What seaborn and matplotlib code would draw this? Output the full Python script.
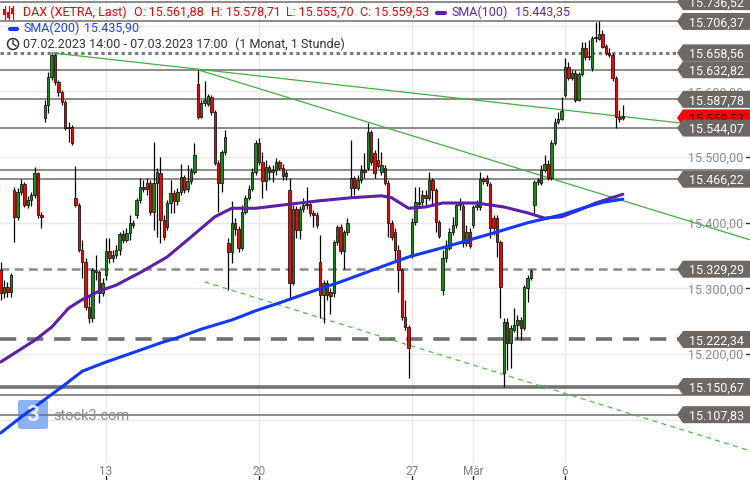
import numpy as np
import pandas as pd
import matplotlib
matplotlib.use('Agg')
import matplotlib.pyplot as plt
import matplotlib.patches as mpatches
from matplotlib.transforms import blended_transform_factory
import seaborn as sns

# --- Stundenkerzen DAX 07.02.2023 14:00 - 07.03.2023 17:00 ---
opens = [15328, 15293, 15302, 15295, 15450, 15409, 15447, 15459, 15427, 15435, 15442, 15476, 15412,
         15559, 15579, 15622, 15655, 15614, 15599, 15584, 15544, 15546,
         15438, 15427, 15359, 15340, 15272, 15255, 15328, 15325, 15293,
         15321, 15357, 15346, 15351, 15359, 15383, 15374, 15384, 15400,
         15412, 15435, 15454, 15451, 15461, 15416, 15461, 15476, 15404,
         15394, 15430, 15445, 15433, 15447, 15470, 15451, 15464, 15477,
         15611, 15561, 15582, 15581, 15591, 15569, 15491, 15461, 15508,
         15369, 15355, 15400, 15390, 15362, 15416, 15438, 15451, 15477,
         15521, 15492, 15464, 15485, 15477, 15480, 15492, 15483, 15471,
         15450, 15308, 15421, 15389, 15421, 15427, 15428, 15415, 15412,
         15340, 15290, 15308, 15295, 15293, 15371, 15394, 15357, 15386,
         15453, 15468, 15453, 15465, 15480, 15483, 15538, 15506, 15496,
         15477, 15483, 15461, 15400, 15386, 15359, 15328, 15257, 15241,
         15351, 15401, 15432, 15432, 15442, 15438, 15465, 15450, 15401,
         15298, 15346, 15361, 15386, 15397, 15427, 15425, 15369, 15386,
         15397, 15424, 15424, 15467, 15468, 15459, 15407, 15407, 15371,
         15171, 15249, 15217, 15237, 15244, 15252, 15240, 15301, 15316,
         15427, 15462, 15461, 15480, 15489, 15468, 15521, 15553, 15558,
         15594, 15637, 15620, 15628, 15587, 15626, 15666, 15652, 15635,
         15681, 15680, 15687, 15669, 15658, 15655, 15620, 15561, 15561.88]
highs = [15340, 15313, 15310, 15324, 15454, 15453, 15467, 15462, 15441, 15447, 15485, 15477, 15416,
         15587, 15629, 15658.56, 15657, 15617, 15602, 15587, 15553, 15549,
         15486, 15430, 15374, 15346, 15290, 15331, 15351, 15328, 15316,
         15377, 15377, 15359, 15366, 15386, 15389, 15392, 15412, 15404,
         15438, 15468, 15465, 15468, 15465, 15523, 15483, 15500, 15412,
         15435, 15465, 15450, 15453, 15489, 15473, 15488, 15483, 15521,
         15632.82, 15587, 15616, 15596, 15594, 15572, 15496, 15511, 15541,
         15377, 15433, 15407, 15395, 15427, 15442, 15457, 15483, 15526,
         15529, 15508, 15496, 15488, 15488, 15499, 15496, 15489, 15480,
         15468, 15427, 15425, 15425, 15438, 15454, 15430, 15419, 15416,
         15381, 15313, 15313, 15301, 15374, 15397, 15398, 15389, 15407,
         15526, 15471, 15473, 15488, 15506, 15552, 15541, 15511, 15529,
         15508, 15488, 15465, 15404, 15392, 15366, 15331, 15282, 15244,
         15407, 15454, 15454, 15450, 15450, 15477, 15468, 15453, 15404,
         15359, 15374, 15392, 15409, 15432, 15438, 15430, 15397, 15392,
         15427, 15435, 15477, 15470, 15473, 15462, 15412, 15412, 15374,
         15255, 15255, 15244, 15270, 15260, 15257, 15305, 15321, 15330,
         15465, 15468, 15488, 15503, 15496, 15526, 15559, 15569, 15591,
         15651, 15645, 15632, 15632, 15629, 15675, 15675, 15678, 15684,
         15706, 15706.37, 15693, 15672, 15666, 15658, 15623, 15572, 15578.71]
lows = [15282, 15285, 15287, 15287, 15371, 15404, 15442, 15424, 15422, 15426, 15438, 15407, 15392,
        15553, 15567, 15617, 15610, 15593, 15579, 15541, 15523, 15518,
        15424, 15355, 15316, 15267, 15247, 15249, 15313, 15278, 15289,
        15313, 15339, 15340, 15346, 15351, 15369, 15371, 15374, 15392,
        15407, 15430, 15447, 15442, 15412, 15389, 15378, 15369, 15374,
        15389, 15415, 15415, 15427, 15442, 15445, 15447, 15459, 15474,
        15558, 15559, 15578, 15578, 15564, 15488, 15416, 15447, 15503,
        15298, 15339, 15381, 15355, 15359, 15413, 15435, 15448, 15473,
        15488, 15438, 15450, 15465, 15462, 15473, 15480, 15465, 15465,
        15285, 15305, 15377, 15375, 15416, 15421, 15410, 15394, 15392,
        15255, 15247, 15282, 15261, 15287, 15366, 15352, 15330, 15381,
        15439, 15442, 15450, 15461, 15468, 15480, 15488, 15468, 15483,
        15473, 15457, 15378, 15374, 15343, 15295, 15252, 15237, 15164,
        15346, 15397, 15424, 15427, 15427, 15435, 15427, 15386, 15377,
        15290, 15340, 15359, 15381, 15392, 15419, 15363, 15365, 15361,
        15392, 15419, 15419, 15459, 15456, 15377, 15381, 15348, 15255,
        15150.67, 15176, 15179, 15234, 15222.34, 15222, 15237, 15279, 15313,
        15415, 15457, 15457, 15477, 15465, 15465, 15518, 15550, 15556,
        15591, 15617, 15617, 15584, 15585, 15623, 15648, 15648, 15631,
        15675, 15678, 15666, 15655, 15652, 15616, 15544.07, 15553, 15555.70]
closes = [15293, 15302, 15295, 15321, 15409, 15447, 15459, 15427, 15435, 15442, 15476, 15412, 15409,
          15579, 15622, 15655, 15614, 15599, 15584, 15544, 15546, 15521,
          15427, 15359, 15340, 15272, 15255, 15328, 15325, 15293, 15308,
          15357, 15346, 15351, 15359, 15383, 15374, 15384, 15400, 15397,
          15435, 15454, 15451, 15461, 15416, 15461, 15477, 15404, 15378,
          15430, 15445, 15433, 15447, 15470, 15450, 15464, 15479, 15503,
          15561, 15582, 15587, 15593, 15569, 15491, 15461, 15508, 15530,
          15355, 15400, 15390, 15362, 15416, 15438, 15451, 15477, 15521,
          15492, 15464, 15485, 15477, 15480, 15492, 15483, 15471, 15476,
          15308, 15421, 15389, 15421, 15427, 15428, 15415, 15412, 15397,
          15290, 15308, 15290, 15289, 15371, 15394, 15357, 15386, 15400,
          15468, 15453, 15465, 15480, 15477, 15538, 15492, 15476, 15486,
          15488, 15461, 15400, 15378, 15359, 15328, 15257, 15241, 15209,
          15401, 15432, 15428, 15442, 15438, 15465, 15450, 15401, 15380,
          15346, 15361, 15386, 15397, 15427, 15430, 15369, 15386, 15365,
          15424, 15427, 15467, 15464, 15461, 15392, 15392, 15371, 15302,
          15249, 15217, 15240, 15244, 15252, 15240, 15302, 15316, 15327,
          15462, 15465, 15480, 15489, 15468, 15521, 15553, 15558, 15570,
          15637, 15620, 15628, 15587, 15626, 15666, 15652, 15654, 15681,
          15683, 15687, 15667, 15658, 15655, 15620, 15561, 15558, 15559.53]

# gleitende Durchschnitte (Stuetzpunkte: Kerzen-Nr., Wert)
sma100_idx = [0, 10, 15, 20, 24, 29, 34, 38, 41, 49, 55, 63, 68, 75, 83, 93, 103, 112, 115, 120,
              125, 130, 140, 148, 155, 160, 165, 170, 175, 183]
sma100_val = [15188, 15221, 15241, 15270, 15283, 15296, 15305, 15316, 15324, 15348, 15374, 15409,
              15422, 15422, 15427, 15433, 15438, 15441, 15438, 15422, 15424, 15430, 15430, 15424,
              15415, 15407, 15409, 15419, 15430, 15443.35]
sma200_idx = [0, 8, 18, 24, 31, 41, 47, 52, 59, 68, 75, 82, 93, 100, 112, 120, 130, 140, 146, 155,
              165, 171, 177, 183]
sma200_val = [15080, 15112, 15150, 15174, 15188, 15206, 15217, 15225, 15238, 15252, 15266, 15278,
              15298, 15310, 15333, 15348, 15362, 15377, 15386, 15400, 15412, 15422, 15431, 15435.90]

# Trendlinien (Kerzen-Nr., Kurs)
trend1_x, trend1_y = [15, 220.4], [15658.56, 15540]
trend2_x, trend2_y = [58, 220.4], [15632.82, 15374]
trend3_x, trend3_y = [60, 220.4], [15310, 15053]

# Horizontale Marken
level_prices = [15736.52, 15706.37, 15658.56, 15632.82, 15587.78, 15544.07,
                15466.22, 15329.29, 15222.34, 15150.67, 15107.83]
hidden_levels = [15480, 15138]
grid_prices = [15100, 15200, 15300, 15400, 15500, 15600, 15700]
axis_prices = [15200, 15300, 15400, 15500, 15600]
last_price = 15559.53

date_ticks = [31, 76, 121, 139, 166]
date_labels = ['13', '20', '27', 'Mär', '6']

W, H = 750, 480
sns.set_style('white')
plt.rcParams['font.family'] = ['Roboto', 'DejaVu Sans']


def de(v):
    s = f"{v:,.2f}"
    return s.replace(',', 'X').replace('.', ',').replace('X', '.')


fig = plt.figure(figsize=(W / 100, H / 100), dpi=100)
ax = fig.add_axes([0, 17 / H, 1, 463 / H])
ymax = 15739
ymin = ymax - 1.522 * 463
ax.set_ylim(ymin, ymax)
ax.set_xlim(-0.18, 220.4)
for s in ax.spines.values():
    s.set_visible(False)
ax.set_yticks([])
ppx = (ymax - ymin) / 463.0
trans = blended_transform_factory(ax.transAxes, ax.transData)
trans_x = blended_transform_factory(ax.transData, ax.transAxes)

# Gitter
for v in grid_prices:
    ax.axhline(v, color='#e9e9e9', lw=1, zorder=0)
for t in date_ticks:
    ax.axvline(t, color='#e9e9e9', lw=1, zorder=0)

# Wasserzeichen
ax.add_patch(mpatches.FancyBboxPatch((18 / W, 1 - 429 / H), 30 / W, 29 / H,
             boxstyle='round,pad=0,rounding_size=0.004', transform=fig.transFigure,
             facecolor='#8db2f3', edgecolor='none', zorder=1, clip_on=False))
fig.text(33 / W, 1 - 415 / H, '3', color='white', fontsize=16, fontweight='bold',
         ha='center', va='center', alpha=0.85)
fig.text(53 / W, 1 - 416 / H, 'stock3.com', color='#8a8a8a', fontsize=10.5,
         ha='left', va='center')

# Horizontale Linien
lc = '#6f6c69'
styles = {
    15658.56: dict(lw=2.2, ls=(0, (1.1, 1.1)), color='#7a7a7a'),
    15329.29: dict(lw=1.8, ls=(0, (3.5, 2.2)), color='#8a8a8a'),
    15222.34: dict(lw=2.6, ls=(0, (4.5, 3)), color='#707070'),
    15150.67: dict(lw=2.6, ls='-', color='#737373'),
}
for v in level_prices + hidden_levels:
    st = styles.get(v, dict(lw=1.1, ls='-', color=lc))
    ax.axhline(v, zorder=2, **st)

# Trendlinien
ax.plot(trend1_x, trend1_y, color='#45ad45', lw=0.9, zorder=2.5)
ax.plot(trend2_x, trend2_y, color='#45ad45', lw=0.9, zorder=2.5)
ax.plot(trend3_x, trend3_y, color='#55bb55', lw=0.9, ls=(0, (4, 3.5)), zorder=2.5)

# Kerzen
df = pd.DataFrame({'o': opens, 'h': highs, 'l': lows, 'c': closes})
df['i'] = np.arange(len(df))
up = df['c'] >= df['o']
body_lo = df[['o', 'c']].min(axis=1)
body_h = (df['c'] - df['o']).abs().clip(lower=1.5)
ax.vlines(df['i'], df['l'], df['h'], color='black', lw=0.9, zorder=3)
ax.bar(df['i'], body_h, bottom=body_lo, width=0.74,
       color=np.where(up, '#168c16', '#ff0000'), edgecolor='black', linewidth=0.5, zorder=4)

# SMA-Linien
sns.lineplot(x=sma100_idx, y=sma100_val, ax=ax, color='#5b1fa8', lw=2.2, zorder=5,
             estimator=None, sort=False)
sns.lineplot(x=sma200_idx, y=sma200_val, ax=ax, color='#1238ff', lw=2.2, zorder=5,
             estimator=None, sort=False)

# Rechte Achse
for v in axis_prices:
    ax.text(743 / W, v, de(v), transform=trans, ha='right', va='center_baseline',
            color='#8c8c8c', fontsize=9, zorder=6)
    ax.plot([746 / W, 1.0], [v, v], transform=trans, color='#333333', lw=1, zorder=6,
            clip_on=False)


def tag(price, face, tcolor, z):
    h = 8.5 * ppx
    pts = [(677 / W, price), (683 / W, price + h), (1.0, price + h),
           (1.0, price - h), (683 / W, price - h)]
    ax.add_patch(mpatches.Polygon(pts, closed=True, transform=trans, facecolor=face,
                                  edgecolor='none', zorder=z, clip_on=False))
    ax.text(744 / W, price, de(price), transform=trans, ha='right', va='center_baseline',
            color=tcolor, fontsize=9, zorder=z + 0.1, clip_on=False)


tag(last_price, '#ff0000', '#300000', 10)
for v in level_prices:
    tag(v, '#6d6864', 'white', 11)

# X-Achse
ax.set_xticks(date_ticks, date_labels)
ax.tick_params(axis='x', length=0, pad=1.5, labelsize=8.5, labelcolor='#7f7f7f')
for t in date_ticks:
    ax.plot([t, t], [-13 / 463, -17 / 463], transform=trans_x, color='#222222', lw=1,
            clip_on=False)

# Kopfzeile
def ftxt(x, y, s, **kw):
    fig.text(x / W, 1 - y / H, s, va='center', ha='left', fontsize=9, **kw)


red = '#f00000'
for k, xx in enumerate([4.5, 8.5, 12.5]):
    fig.add_artist(plt.Line2D([xx / W, xx / W], [1 - 6 / H, 1 - 19 / H], color=red, lw=0.9))
    yb = [9, 12, 8][k]
    fig.add_artist(mpatches.Rectangle(((xx - 1.8) / W, 1 - (yb + 6) / H), 3.6 / W, 6 / H,
                                      facecolor=red, edgecolor='none'))
ftxt(23, 12.5, 'DAX (XETRA, Last)', color=red)
ftxt(134, 12.5, 'O: 15.561,88', color=red)
ftxt(211, 12.5, 'H: 15.578,71', color=red)
ftxt(286, 12.5, 'L: 15.555,70', color=red)
ftxt(360, 12.5, 'C: 15.559,53', color=red)
fig.add_artist(plt.Line2D([437 / W, 445 / W], [1 - 12.5 / H] * 2, color='#5b1fa8', lw=3))
ftxt(452, 12.5, 'SMA(100)', color='#5b2aa8')
ftxt(515, 12.5, '15.443,35', color='#5b2aa8')

fig.add_artist(plt.Line2D([10 / W, 17 / W], [1 - 28.5 / H] * 2, color='#1238ff', lw=3))
ftxt(23, 28.5, 'SMA(200)', color='#1f3cff')
ftxt(84, 28.5, '15.435,90', color='#1f3cff')

fig.add_artist(mpatches.Ellipse((13 / W, 1 - 44 / H), 11 / W, 11 / H, facecolor='none',
                                edgecolor='#333333', lw=1.1, transform=fig.transFigure))
fig.add_artist(plt.Line2D([13 / W, 13 / W, 16 / W], [1 - 40 / H, 1 - 44 / H, 1 - 46 / H],
                          color='#333333', lw=1))
ftxt(23, 44, '07.02.2023 14:00 - 07.03.2023 17:00', color='#333333')
ftxt(235, 44, '(1 Monat, 1 Stunde)', color='#333333')

fig.savefig('out.png', dpi=100)
